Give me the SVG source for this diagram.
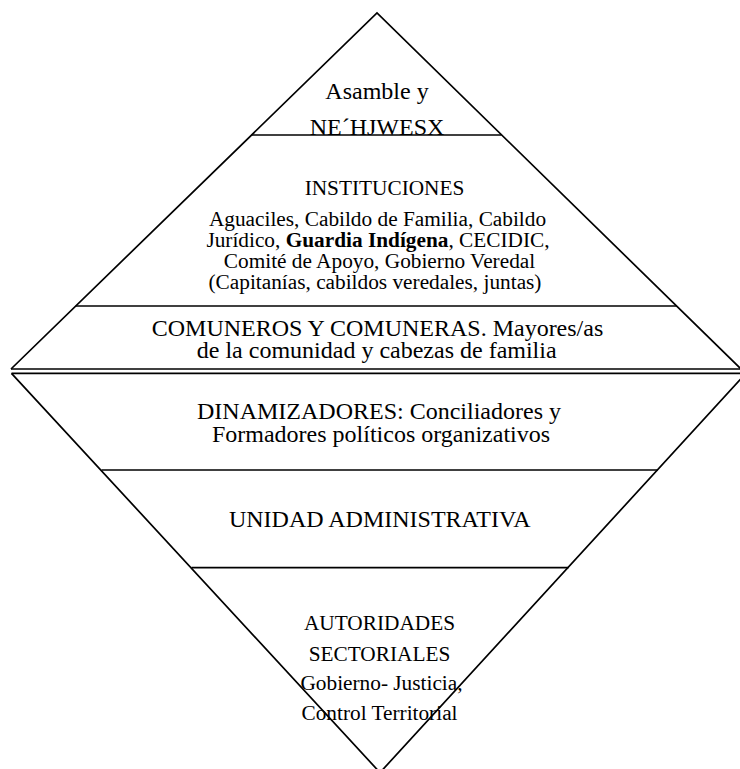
<svg xmlns="http://www.w3.org/2000/svg" width="740" height="769" viewBox="0 0 740 769">
<style>
.edge{fill:none;stroke:#000;stroke-width:1.7;stroke-linejoin:miter}
.div{stroke:#000;stroke-width:1.7}
text{font-family:"Liberation Serif","Times New Roman",serif;fill:#000;text-anchor:middle}
.t24{font-size:24px}
.t21{font-size:21.3px}
.b{font-weight:bold}
</style>
<rect width="740" height="769" fill="#fff"/>
<g id="connectors">
<polyline class="edge" points="11,369 377,13 741,369"/>
<polyline class="edge" points="11.5,373.3 380,772.6 746,373.3"/>
<line class="div" x1="251.6" y1="135" x2="501.5" y2="135"/>
<line class="div" x1="75.8" y1="306" x2="677" y2="306"/>
<line class="div" x1="11" y1="369" x2="741" y2="369"/>
<line class="div" x1="11.5" y1="373.3" x2="746" y2="373.3"/>
<line class="div" x1="101.5" y1="470" x2="658" y2="470"/>
<line class="div" x1="191.5" y1="567.7" x2="568.5" y2="567.7"/>
</g>
<g id="asamblea">
<text class="t24" x="377" y="99">Asamble y</text>
<text class="t24" x="377" y="135">NE´HJWESX</text>
</g>
<g id="instituciones">
<text class="t21" x="384.5" y="195">INSTITUCIONES</text>
<text class="t21" x="377.5" y="225.5">Aguaciles, Cabildo de Familia, Cabildo</text>
<text class="t21" x="378" y="246.7">Jurídico, <tspan class="b">Guardia Indígena</tspan>, CECIDIC,</text>
<text class="t21" x="379.5" y="268">Comité de Apoyo, Gobierno Veredal</text>
<text class="t21" x="375" y="289">(Capitanías, cabildos veredales, juntas)</text>
</g>
<g id="comuneros">
<text class="t24" x="377.5" y="336">COMUNEROS Y COMUNERAS. Mayores/as</text>
<text class="t24" x="376.7" y="358.3">de la comunidad y cabezas de familia</text>
</g>
<g id="dinamizadores">
<text class="t24" x="379" y="419.3">DINAMIZADORES: Conciliadores y</text>
<text class="t24" x="381" y="442">Formadores políticos organizativos</text>
</g>
<g id="unidad">
<text class="t24" x="379.7" y="527.3">UNIDAD ADMINISTRATIVA</text>
</g>
<g id="autoridades">
<text class="t21" x="379.5" y="630">AUTORIDADES</text>
<text class="t21" x="379.5" y="660.7">SECTORIALES</text>
<text class="t21" x="381.5" y="690">Gobierno- Justicia,</text>
<text class="t21" x="379.5" y="720">Control Territorial</text>
</g>
</svg>
